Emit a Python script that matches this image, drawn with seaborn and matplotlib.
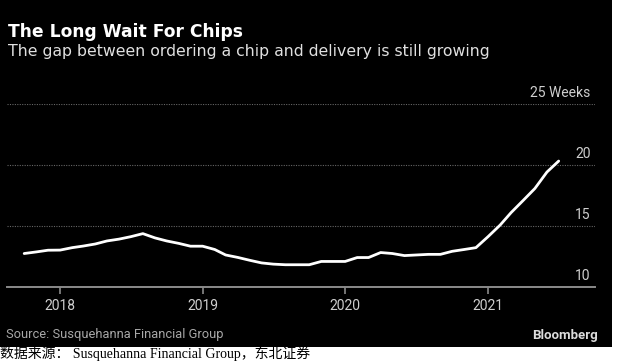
import matplotlib
matplotlib.use("Agg")
import matplotlib.pyplot as plt
import matplotlib.dates as mdates
import pandas as pd
import seaborn as sns
from matplotlib.patches import Rectangle
from matplotlib.transforms import blended_transform_factory

# monthly lead time (weeks), Oct 2017 .. Jul 2021
months = pd.date_range("2017-10-01", "2021-07-01", freq="MS")
lead_weeks = [
    12.72, 12.85, 12.99,
    13.0, 13.2, 13.33, 13.5, 13.75, 13.9, 14.1, 14.35, 14.0, 13.75, 13.55, 13.32,
    13.32, 13.05, 12.6, 12.4, 12.17, 11.95, 11.85, 11.8, 11.8, 11.8, 12.07, 12.07,
    12.07, 12.39, 12.39, 12.8, 12.72, 12.55, 12.6, 12.65, 12.65, 12.9, 13.05, 13.2,
    14.1, 15.05, 16.07, 17.07, 18.05, 19.4, 20.3,
]
y_ticks = [10, 15, 20, 25]
y_labels = ["10", "15", "20", "25 Weeks"]

title = "The Long Wait For Chips"
subtitle = "The gap between ordering a chip and delivery is still growing"
source = "Source: Susquehanna Financial Group"
caption = "数据来源： Susquehanna Financial Group，东北证券"

df = pd.DataFrame({"month": months, "weeks": lead_weeks})

sns.set_style("dark")
plt.rcParams["font.family"] = ["Roboto", "DejaVu Sans"]

W, H = 617, 362
fig = plt.figure(figsize=(W / 100, H / 100), dpi=100, facecolor="white")
fig.patches.append(Rectangle((0, 15 / H), 612 / W, 347 / H, transform=fig.transFigure,
                             facecolor="black", edgecolor="none", zorder=-1))

ax = fig.add_axes([7 / W, (H - 286.7) / H, 588 / W, 183 / H])
ax.set_facecolor("black")
sns.lineplot(data=df, x="month", y="weeks", ax=ax, color="white", linewidth=2.0)

ax.set_xlim(pd.Timestamp("2017-08-18"), pd.Timestamp("2021-10-02"))
ax.set_ylim(10, 25)
ax.set_xlabel("")
ax.set_ylabel("")

for s in ["top", "left", "right"]:
    ax.spines[s].set_visible(False)
ax.spines["bottom"].set_visible(True)
ax.spines["bottom"].set_color("#8a8a8a")
ax.spines["bottom"].set_linewidth(1.4)

ax.set_yticks(y_ticks)
ax.set_yticklabels([])
ax.tick_params(axis="y", length=0)
ax.grid(False)
for v in y_ticks[1:]:
    ax.axhline(v, color="#666666", linestyle=(0, (1, 1.2)), linewidth=0.8, zorder=1)

trans = blended_transform_factory(ax.transAxes, ax.transData)
for v, lab in zip(y_ticks, y_labels):
    ax.annotate(lab, xy=(0.9927, v), xycoords=trans, xytext=(0, 5),
                textcoords="offset points", ha="right", va="baseline",
                color="#cfcfcf", fontsize=10)

ax.xaxis.set_major_locator(mdates.YearLocator())
ax.xaxis.set_major_formatter(mdates.DateFormatter("%Y"))
ax.tick_params(axis="x", bottom=True, direction="out", length=5, width=1.2,
               color="#8a8a8a", labelcolor="#cfcfcf", labelsize=10, pad=4)

fig.text(8 / W, (H - 36.7) / H, title, color="white", fontsize=12.3, fontweight="bold",
         va="baseline", ha="left", family=["DejaVu Sans"])
fig.text(8 / W, (H - 55.7) / H, subtitle, color="#e0e0e0", fontsize=11.3,
         va="baseline", ha="left", family=["DejaVu Sans"])
fig.text(6 / W, (H - 338) / H, source, color="#a8a8a8", fontsize=9.3,
         va="baseline", ha="left")
fig.text(598 / W, (H - 339) / H, "Bloomberg", color="#dcdcdc", fontsize=9.5,
         fontweight="bold", va="baseline", ha="right")
fig.text(0.5 / W, 4 / H, caption, color="black", fontsize=10, va="baseline", ha="left",
         family=["Liberation Serif", "Noto Sans CJK SC"])

fig.savefig("out.png", dpi=100, facecolor="white")
